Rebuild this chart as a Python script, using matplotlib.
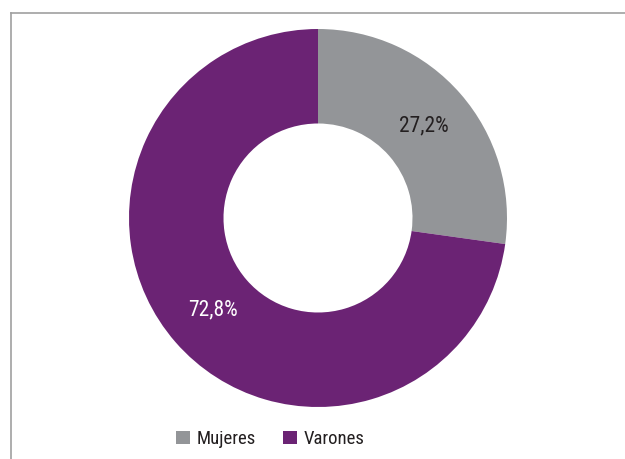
import matplotlib.pyplot as plt
from matplotlib import font_manager
from matplotlib.lines import Line2D

labels = ['Mujeres', 'Varones']
values = [27.2, 72.8]
colors = ['#939598', '#6b2374']
text_colors = ['#231f20', 'white']

names = {f.name for f in font_manager.fontManager.ttflist}
family = 'Roboto Condensed' if 'Roboto Condensed' in names else 'Roboto'
plt.rcParams['font.family'] = [family, 'DejaVu Sans']
plt.rcParams['font.stretch'] = 'condensed'

W, H = 625, 459
fig = plt.figure(figsize=(W / 100, H / 100), dpi=100)

# frame lines (cropped box)
fig.add_artist(Line2D([11 / W, 11 / W], [0, 1 - 13 / H], color='#a0a0a0', lw=1.2))
fig.add_artist(Line2D([11 / W, 1], [1 - 13 / H, 1 - 13 / H], color='#a0a0a0', lw=1.2))

cx, cy, r = 318, 218, 189
ax = fig.add_axes([(cx - r) / W, (H - cy - r) / H, 2 * r / W, 2 * r / H])
wedges, texts, autotexts = ax.pie(
    values, colors=colors, startangle=90, counterclock=False, radius=1,
    wedgeprops=dict(width=0.5, linewidth=0),
    autopct=lambda p: f'{p:.1f}%'.replace('.', ','), pctdistance=0.74,
    textprops=dict(fontsize=15.5))
for t, c in zip(autotexts, text_colors):
    t.set_color(c)
ax.set_xlim(-1, 1)
ax.set_ylim(-1, 1)
ax.set_aspect('equal')
ax.axis('off')

fig.legend(wedges, labels, loc='center', bbox_to_anchor=(270 / W, 1 - 439 / H),
           ncol=2, frameon=False, fontsize=13.5, handlelength=0.75, handleheight=0.75,
           handletextpad=0.35, columnspacing=1.45, labelcolor='#231f20')

fig.savefig('out.png', dpi=100)
